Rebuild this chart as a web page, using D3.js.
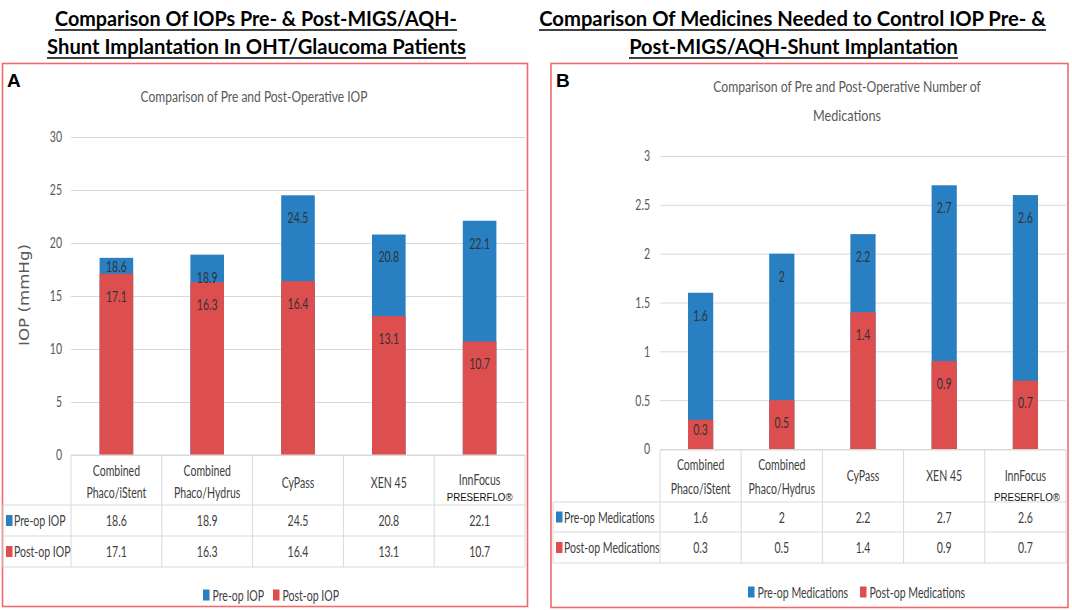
<!DOCTYPE html>
<html><head><meta charset="utf-8">
<script src="https://cdn.jsdelivr.net/npm/d3@7"></script>
<style>body{margin:0;background:#fff}svg{display:block}</style>
</head><body>
<svg id="c" width="1072" height="610"></svg>
<script>
// ---------- data ----------
const categories = ["Combined Phaco/iStent", "Combined Phaco/Hydrus", "CyPass", "XEN 45", "InnFocus PRESERFLO®"];
const categoryLines = [["Combined", "Phaco/iStent"], ["Combined", "Phaco/Hydrus"], ["CyPass"], ["XEN 45"], ["InnFocus"]];
const trademarkLine = ["", "", "", "", "PRESERFLO®"];
const iopPre = [18.6, 18.9, 24.5, 20.8, 22.1];
const iopPost = [17.1, 16.3, 16.4, 13.1, 10.7];
const medPre = [1.6, 2, 2.2, 2.7, 2.6];
const medPost = [0.3, 0.5, 1.4, 0.9, 0.7];
const iopTicks = [0, 5, 10, 15, 20, 25, 30];
const medTicks = [0, 0.5, 1, 1.5, 2, 2.5, 3];
const seriesA = ["Pre-op IOP", "Post-op IOP"];
const seriesB = ["Pre-op Medications", "Post-op Medications"];
const headTitleA = ["Comparison Of IOPs Pre- & Post-MIGS/AQH-", "Shunt Implantation In OHT/Glaucoma Patients"];
const headTitleB = ["Comparison Of Medicines Needed to Control IOP Pre- &", "Post-MIGS/AQH-Shunt Implantation"];
const subTitleA = ["Comparison of Pre and Post-Operative IOP"];
const subTitleB = ["Comparison of Pre and Post-Operative Number of", "Medications"];
const yTitleA = "IOP (mmHg)";

// ---------- style ----------
const BLUE = "#287fc1", RED = "#dd4f4f", GRID = "#d9d9d9", BORDER = "#ef6b6b";
const BODY = "Lato, 'Open Sans', sans-serif";
const FS = 15.5, SQ = 0.68;
const svg = d3.select("#c");

// horizontally scale a text (about its anchor point) so it is k times its natural width
function squeezeNode(node, k) {
  const s = d3.select(node);
  const x = +s.attr("x") || 0, y = +s.attr("y") || 0;
  const prev = s.attr("transform") || "";
  s.attr("x", 0).attr("y", 0).attr("transform", `${prev} translate(${x},${y}) scale(${k},1)`);
}
function fit(sel, w) {
  const n = sel.node();
  squeezeNode(n, w / n.getComputedTextLength());
}

// header titles
function headTitle(lines, cx, widths, baselines) {
  lines.forEach((t, i) => {
    const tx = svg.append("text").attr("x", cx[i]).attr("y", baselines[i]).attr("text-anchor", "middle")
      .attr("font-family", "Lato, sans-serif").attr("font-weight", "bold").attr("font-size", 21)
      .attr("fill", "#000").text(t);
    fit(tx, widths[i]);
    svg.append("line").attr("x1", cx[i] - widths[i] / 2).attr("x2", cx[i] + widths[i] / 2)
      .attr("y1", baselines[i] + 4).attr("y2", baselines[i] + 4).attr("stroke", "#000").attr("stroke-width", 1.6);
  });
}
headTitle(headTitleA, [256, 256.5], [402, 419], [26, 54]);
headTitle(headTitleB, [792.5, 793.5], [507, 329], [26, 54]);

function drawPanel(cfg) {
  const g = svg.append("g");
  g.append("rect").attr("x", cfg.box[0]).attr("y", cfg.box[1]).attr("width", cfg.box[2]).attr("height", cfg.box[3])
    .attr("fill", "none").attr("stroke", BORDER).attr("stroke-width", 1.6);
  g.append("text").attr("x", cfg.letterX).attr("y", 87).attr("font-family", "'Liberation Sans', Arial, sans-serif")
    .attr("font-weight", "bold").attr("font-size", 19).attr("fill", "#000").text(cfg.letter);
  cfg.sub.forEach((t, i) => {
    const tx = g.append("text").attr("x", cfg.subX).attr("y", cfg.subY[i]).attr("text-anchor", "middle")
      .attr("font-family", BODY).attr("font-size", 16).attr("fill", "#595959").text(t);
    fit(tx, cfg.subW[i]);
  });

  const x = d3.scaleBand().domain(categories).range([cfg.x0, cfg.x1]).paddingInner(cfg.pad).paddingOuter(cfg.pad / 2);
  const y = d3.scaleLinear().domain([0, cfg.ticks[cfg.ticks.length - 1]]).range([cfg.yb, cfg.yt]);

  const ax = g.append("g").attr("transform", `translate(${cfg.x0},0)`)
    .call(d3.axisLeft(y).tickValues(cfg.ticks).tickFormat(d => String(d))
      .tickSize(-(cfg.x1 - cfg.x0)).tickPadding(cfg.x0 - cfg.labelX));
  ax.select(".domain").remove();
  ax.selectAll("line").attr("stroke", GRID).attr("stroke-width", 1);
  ax.selectAll("text").attr("font-family", BODY).attr("font-size", FS).attr("fill", "#595959").attr("class", "sq");

  if (cfg.yTitle) {
    const yt = g.append("text").attr("transform", `translate(${cfg.yTitleX},${(cfg.yt + cfg.yb) / 2 - 1}) rotate(-90)`)
      .attr("text-anchor", "middle").attr("dominant-baseline", "middle")
      .attr("font-family", "'DejaVu Sans', sans-serif").attr("font-size", 13.5).attr("fill", "#595959").text(cfg.yTitle);
    fit(yt, 102);
  }

  // bars: pre-op behind, post-op overlaid from zero
  g.selectAll(".pre").data(cfg.pre).join("rect").attr("x", (d, i) => x(categories[i])).attr("width", x.bandwidth())
    .attr("y", d => y(d)).attr("height", d => y(0) - y(d)).attr("fill", BLUE);
  g.selectAll(".post").data(cfg.post).join("rect").attr("class", "post").attr("x", (d, i) => x(categories[i])).attr("width", x.bandwidth())
    .attr("y", d => y(d)).attr("height", d => y(0) - y(d)).attr("fill", RED);

  const cxOf = i => x(categories[i]) + x.bandwidth() / 2;
  const txt = (sel, xx, yy, t, anchor) => sel.append("text").attr("class", "sq").attr("x", xx).attr("y", yy)
    .attr("text-anchor", anchor || "middle").attr("dominant-baseline", "central")
    .attr("font-family", BODY).attr("font-size", FS).attr("fill", "#404040").text(t);

  cfg.pre.forEach((d, i) => {
    const top = y(d), bot = y(cfg.post[i]);
    const cy = (bot - top) < 20 ? (top + bot) / 2 : top + 22;
    txt(g, cxOf(i), cy, d).attr("fill", "#333");
  });
  cfg.post.forEach((d, i) => {
    const top = y(d), bot = y(0);
    const cy = Math.min(top + 22, bot - 20);
    txt(g, cxOf(i), cy, d).attr("fill", "#333");
  });

  // data table
  const T = cfg.table;
  const line = (x1, y1, x2, y2) => g.append("line").attr("x1", x1).attr("y1", y1).attr("x2", x2).attr("y2", y2)
    .attr("stroke", GRID).attr("stroke-width", 1);
  line(cfg.x0, T.top, cfg.x1, T.top);
  line(T.left, T.r1, cfg.x1, T.r1); line(T.left, T.r2, cfg.x1, T.r2); line(T.left, T.r3, cfg.x1, T.r3);
  line(T.left, T.r1, T.left, T.r3);
  const bounds = [cfg.x0].concat(categories.map(c => x(c) + x.bandwidth() + x.step() * cfg.pad / 2));
  bounds.forEach(b => line(b, T.top, b, T.r3));

  categoryLines.forEach((ls, i) => {
    const cx = cxOf(i);
    if (ls.length === 2) ls.forEach((t, k) => txt(g, cx, T.twoLine[k], t));
    else txt(g, cx, trademarkLine[i] ? T.tmTop : T.oneLine, ls[0]);
    if (trademarkLine[i]) {
      const tm = g.append("text").attr("x", cx + cfg.tmDx).attr("y", T.tm).attr("text-anchor", "middle")
        .attr("dominant-baseline", "central").attr("font-family", "'Liberation Sans', Arial, sans-serif").attr("font-size", 11.5)
        .attr("fill", "#111").text(trademarkLine[i]);
      fit(tm, 66);
    }
  });
  const rows = [[cfg.pre, BLUE, cfg.series[0], (T.r1 + T.r2) / 2], [cfg.post, RED, cfg.series[1], (T.r2 + T.r3) / 2]];
  rows.forEach(([vals, col, name, cy]) => {
    g.append("rect").attr("x", T.left + 3).attr("y", cy - 5.5).attr("width", 6.5).attr("height", 11).attr("fill", col);
    txt(g, T.left + 11, cy, name, "start");
    vals.forEach((v, i) => txt(g, cxOf(i), cy, v));
  });

  // legend
  cfg.legendX.forEach((lx, k) => {
    g.append("rect").attr("x", lx).attr("y", cfg.legendY - 5.5).attr("width", 6.5).attr("height", 11).attr("fill", k ? RED : BLUE);
    txt(g, lx + 9.5, cfg.legendY, cfg.series[k], "start");
  });
}

drawPanel({
  box: [2.5, 63.5, 525, 543], letter: "A", letterX: 7,
  sub: subTitleA, subX: 254, subY: [102], subW: [227],
  x0: 71, x1: 525, pad: 0.63, yb: 455, yt: 137, ticks: iopTicks, labelX: 62,
  yTitle: yTitleA, yTitleX: 25,
  pre: iopPre, post: iopPost, series: seriesA, tmDx: 0,
  table: { top: 455, r1: 505, r2: 536, r3: 567, left: 3, twoLine: [470, 492], oneLine: 482, tmTop: 479.5, tm: 497 },
  legendX: [203, 273], legendY: 595
});
drawPanel({
  box: [551, 63.5, 517, 544], letter: "B", letterX: 556,
  sub: subTitleB, subX: 847, subY: [92, 121], subW: [268, 68],
  x0: 660, x1: 1066, pad: 0.69, yb: 449, yt: 156, ticks: medTicks, labelX: 650,
  yTitle: null,
  pre: medPre, post: medPost, series: seriesB, tmDx: 1.5,
  table: { top: 450, r1: 502, r2: 532, r3: 563, left: 553, twoLine: [464, 488], oneLine: 475, tmTop: 475, tm: 497 },
  legendX: [748, 860], legendY: 592
});

// horizontal squeeze to mimic the condensed look of the source text
svg.selectAll("text.sq").each(function () { squeezeNode(this, SQ); });
</script>
</body></html>
